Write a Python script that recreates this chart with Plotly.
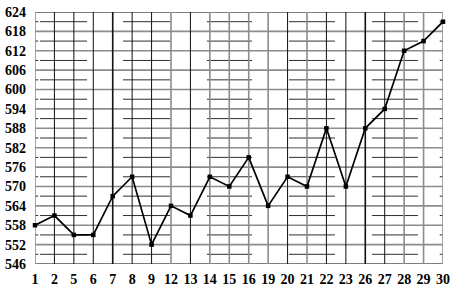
import plotly.graph_objects as go

days = ["1", "2", "5", "6", "7", "8", "9", "12", "13", "14", "15", "16",
        "19", "20", "21", "22", "23", "26", "27", "28", "29", "30"]
prices = [558, 561, 555, 555, 567, 573, 552, 564, 561, 573, 570, 579,
          564, 573, 570, 588, 570, 588, 594, 612, 615, 621]
y_ticks = list(range(546, 625, 6))
y_minor = list(range(549, 624, 6))
gray_days = ["1", "12", "14", "15", "16", "19", "21", "28", "29", "30"]
thick_days = ["7", "26"]
minor_blocks = [(0.26, 2.68), (4.53, 6.95), (8.85, 11.17), (13.07, 15.44), (17.34, 19.71)]

shapes = []
# major horizontal grid
for v in y_ticks:
    col = "#000000" if v in (546, 624) else "#8c8c8c"
    w = 1.2 if v in (546, 624) else 1.6
    shapes.append(dict(type="line", xref="paper", yref="y", x0=0, x1=1, y0=v, y1=v,
                       line=dict(color=col, width=w), layer="below"))
# minor horizontal segments
for v in y_minor:
    for a, b in minor_blocks:
        shapes.append(dict(type="line", xref="x", yref="y", x0=a, x1=b, y0=v, y1=v,
                           line=dict(color="#2e2e2e", width=1), layer="below"))
    shapes.append(dict(type="line", xref="paper", yref="y", x0=0, x1=0.008, y0=v, y1=v,
                       line=dict(color="#2e2e2e", width=1), layer="below"))
    shapes.append(dict(type="line", xref="paper", yref="y", x0=0.992, x1=1, y0=v, y1=v,
                       line=dict(color="#2e2e2e", width=1), layer="below"))
# vertical grid
for i, d in enumerate(days):
    if d in gray_days:
        col, w = "#8c8c8c", 1.6
    else:
        col, w = "#111111", 1.6 if d in thick_days else 1
    shapes.append(dict(type="line", xref="x", yref="y", x0=i, x1=i, y0=546, y1=624,
                       line=dict(color=col, width=w), layer="below"))

fig = go.Figure()
fig.add_trace(go.Scatter(
    x=days, y=prices, mode="lines+markers",
    line=dict(color="#000000", width=1.7),
    marker=dict(color="#000000", size=4.5, symbol="square"),
    cliponaxis=False, showlegend=False, hoverinfo="skip"))

font = dict(family="Liberation Serif, Times New Roman, serif", size=14,
            color="#000000", weight="bold")
fig.update_layout(
    width=465, height=296,
    margin=dict(l=35, r=22, t=12, b=32),
    paper_bgcolor="white", plot_bgcolor="white",
    shapes=shapes,
    xaxis=dict(type="category", categoryorder="array", categoryarray=days,
               range=[0, len(days) - 1], showgrid=False, zeroline=False,
               showline=False, ticks="", ticklabelstandoff=5,
               tickfont=font, automargin=False),
    yaxis=dict(range=[546, 624], tickvals=y_ticks, ticktext=[str(v) for v in y_ticks],
               showgrid=False, zeroline=False, showline=False, ticks="",
               ticklabelstandoff=8, tickfont=font, automargin=False),
)
fig.write_html("out.html")
